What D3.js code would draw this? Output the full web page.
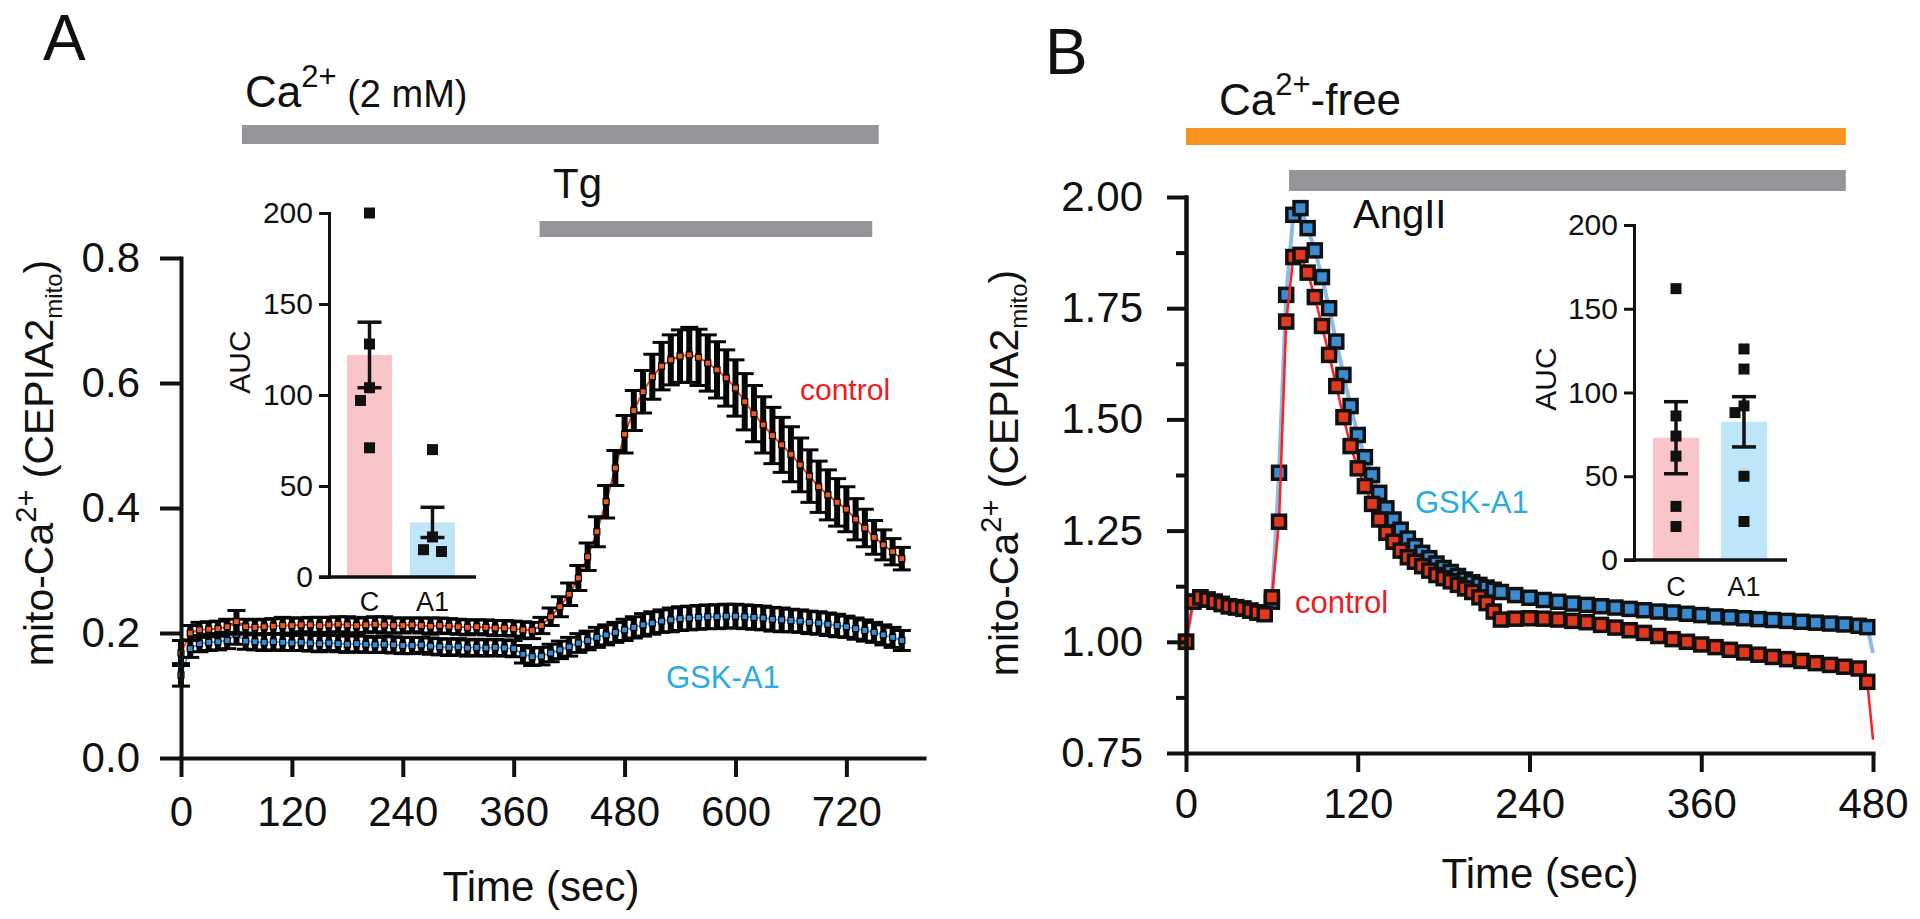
<!DOCTYPE html>
<html lang="en">
<head>
<meta charset="UTF-8">
<title>mito-Ca2+ (CEPIA2mito) traces</title>
<script src="https://d3js.org/d3.v7.min.js"></script>
<style>
  body { margin: 0; background: #fff; }
  svg { display: block; background: #fff; }
  text { font-family: 'Liberation Sans', Arial, sans-serif; fill: #111; }
</style>
</head>
<body>
<svg width="1920" height="919"></svg>
<script>
const FONT = "'Liberation Sans', Arial, sans-serif";

// ---------- panel A : Ca2+ (2 mM) + Tg, sampled every 10 s ----------
const timeA = [0,10,20,30,40,50,60,70,80,90,
  100,110,120,130,140,150,160,170,180,190,
  200,210,220,230,240,250,260,270,280,290,
  300,310,320,330,340,350,360,370,380,390,
  400,410,420,430,440,450,460,470,480,490,
  500,510,520,530,540,550,560,570,580,590,
  600,610,620,630,640,650,660,670,680,690,
  700,710,720,730,740,750,760,770,780];
const controlA = [0.168,0.200,0.205,0.206,0.207,0.210,0.218,0.210,0.209,0.210,
  0.211,0.212,0.212,0.213,0.213,0.212,0.213,0.214,0.213,0.212,
  0.213,0.214,0.213,0.212,0.212,0.213,0.212,0.211,0.212,0.211,
  0.210,0.209,0.210,0.209,0.208,0.208,0.207,0.205,0.204,0.212,
  0.226,0.242,0.262,0.288,0.322,0.362,0.410,0.464,0.518,0.556,
  0.586,0.610,0.627,0.637,0.643,0.645,0.641,0.632,0.621,0.608,
  0.592,0.570,0.551,0.533,0.516,0.501,0.486,0.469,0.451,0.434,
  0.421,0.409,0.398,0.382,0.368,0.353,0.341,0.330,0.319];
const controlSemA = [0.020,0.012,0.012,0.012,0.012,0.012,0.018,0.012,0.012,0.012,
  0.012,0.013,0.012,0.011,0.012,0.013,0.012,0.012,0.013,0.012,
  0.012,0.012,0.013,0.012,0.012,0.011,0.012,0.013,0.012,0.012,
  0.012,0.012,0.011,0.012,0.012,0.012,0.012,0.013,0.013,0.013,
  0.014,0.016,0.018,0.020,0.022,0.024,0.026,0.028,0.030,0.032,
  0.034,0.036,0.038,0.040,0.042,0.044,0.045,0.045,0.045,0.045,
  0.045,0.045,0.045,0.045,0.045,0.044,0.044,0.043,0.042,0.041,
  0.040,0.038,0.036,0.033,0.030,0.027,0.024,0.021,0.018];
const gskA = [0.133,0.175,0.183,0.185,0.186,0.188,0.198,0.187,0.186,0.185,
  0.186,0.185,0.184,0.185,0.184,0.183,0.184,0.183,0.182,0.183,
  0.182,0.181,0.182,0.181,0.180,0.180,0.181,0.179,0.178,0.177,
  0.178,0.176,0.177,0.176,0.177,0.176,0.175,0.166,0.162,0.163,
  0.168,0.173,0.178,0.184,0.188,0.193,0.197,0.201,0.205,0.209,
  0.213,0.216,0.219,0.221,0.223,0.224,0.225,0.226,0.226,0.227,
  0.227,0.226,0.225,0.224,0.222,0.221,0.220,0.219,0.217,0.216,
  0.214,0.212,0.210,0.207,0.204,0.201,0.197,0.193,0.188];
const gskSemA = [0.018,0.014,0.013,0.013,0.013,0.013,0.016,0.013,0.013,0.013,
  0.013,0.013,0.012,0.013,0.013,0.013,0.012,0.013,0.013,0.013,
  0.013,0.012,0.013,0.013,0.013,0.013,0.012,0.013,0.013,0.013,
  0.013,0.013,0.013,0.013,0.013,0.013,0.013,0.014,0.014,0.014,
  0.014,0.014,0.015,0.015,0.015,0.016,0.016,0.016,0.017,0.017,
  0.018,0.018,0.018,0.019,0.019,0.019,0.019,0.019,0.019,0.019,
  0.019,0.019,0.019,0.019,0.019,0.019,0.018,0.018,0.018,0.018,
  0.018,0.018,0.017,0.017,0.017,0.016,0.016,0.016,0.016];
const xTicksA = [0,120,240,360,480,600,720];
const yTicksA = [0,0.2,0.4,0.6,0.8];
const caBarA = [66, 755];     // Ca2+ (2 mM) application, s
const tgBarA = [388, 748];    // Tg application, s

// ---------- panel B : Ca2+-free + AngII ----------
const timeB = [0,5,10,15,20,25,30,35,40,45,50,55,60,65,70,75,80,85,90,95,
  100,105,110,115,120,125,130,135,140,145,150,155,160,165,170,175,180,185,190,195,
  200,205,210,215,220,230,240,250,260,270,280,290,300,310,320,330,340,350,360,370,
  380,390,400,410,420,430,440,450,460,470,476,480];
const controlB = [1.00,1.09,1.10,1.095,1.09,1.085,1.08,1.078,1.075,1.07,1.066,1.062,1.10,1.27,1.72,1.865,1.87,1.83,1.775,1.71,
  1.645,1.575,1.505,1.44,1.39,1.35,1.31,1.275,1.245,1.225,1.205,1.19,1.18,1.17,1.16,1.15,1.143,1.136,1.128,1.12,
  1.112,1.10,1.087,1.068,1.05,1.052,1.053,1.052,1.05,1.047,1.044,1.038,1.032,1.026,1.02,1.013,1.006,1.0,0.994,0.988,
  0.982,0.976,0.971,0.966,0.961,0.957,0.952,0.948,0.944,0.94,0.91,0.78];
const gskB = [1.00,1.09,1.10,1.095,1.09,1.085,1.08,1.077,1.074,1.07,1.066,1.063,1.09,1.38,1.78,1.96,1.975,1.93,1.88,1.82,
  1.75,1.675,1.60,1.53,1.465,1.415,1.375,1.335,1.30,1.275,1.252,1.232,1.215,1.20,1.188,1.176,1.166,1.157,1.148,1.14,
  1.134,1.128,1.122,1.117,1.112,1.105,1.099,1.094,1.09,1.086,1.083,1.08,1.077,1.074,1.071,1.068,1.066,1.063,1.06,1.057,
  1.055,1.053,1.051,1.049,1.047,1.045,1.043,1.041,1.039,1.036,1.033,0.975];
const xTicksB = [0,120,240,360,480];
const yTicksB = [0.75,1.00,1.25,1.50,1.75,2.00];
const yMinorB = [0.875,1.125,1.375,1.625,1.875];
const freeBarB = [0, 461];    // Ca2+-free
const angBarB = [72, 461];    // AngII

// ---------- insets (AUC) ----------
const groups = ["C", "A1"];
const aucMeanA = [122, 30];
const aucSemA = [18, 8.3];
const aucPointsA = [[200,128,104,97,71], [70,22,15,14]];
const aucMeanB = [73, 82.5];
const aucSemB = [21.5, 15];
const aucPointsB = [[162,86,74,62,32,20], [126,114,92,88,50,23]];
const aucTicks = [0,50,100,150,200];

// ---------- colours ----------
const RED_MK = "#ee5a24", BLUE_MK = "#3a8dd2";
const RED_TXT = "#ed1c24", BLUE_TXT = "#29abe2";
const GRAY = "#939598", ORANGE = "#f7941d";
const barFill = ["#f9c5c8", "#bfe6f8"];

const svg = d3.select("svg");

// scales
const xA = d3.scaleLinear().domain([0, 804]).range([181, 924]);
const yA = d3.scaleLinear().domain([0, 0.8]).range([758, 258]);
const xB = d3.scaleLinear().domain([0, 480]).range([1186, 1873]);
const yB = d3.scaleLinear().domain([0.75, 2.0]).range([753, 197]);

function styleAxis(sel, w, size) {
  sel.select(".domain").attr("stroke", "#111").attr("stroke-width", w).attr("stroke-linecap", "square");
  sel.selectAll(".tick line").attr("stroke", "#111").attr("stroke-width", w);
  sel.selectAll(".tick text").attr("fill", "#111").style("font-size", size + "px").style("font-family", FONT);
}

// ---------- panel A traces ----------
function traceA(means, sems, fill, lineColor) {
  const pts = timeA.map((t, i) => ({ t: t, m: means[i], s: sems[i] }));
  const g = svg.append("g");
  g.append("path").datum(pts)
    .attr("fill", "none").attr("stroke", lineColor).attr("stroke-width", 2)
    .attr("d", d3.line().x(d => xA(d.t)).y(d => yA(d.m)));
  const eb = g.selectAll("g.eb").data(pts).join("g").attr("class", "eb").attr("stroke", "#050505");
  eb.append("line").attr("stroke-width", 6)
    .attr("x1", d => xA(d.t)).attr("x2", d => xA(d.t))
    .attr("y1", d => yA(d.m - d.s)).attr("y2", d => yA(d.m + d.s));
  eb.append("line").attr("stroke-width", 3)
    .attr("x1", d => xA(d.t) - 9).attr("x2", d => xA(d.t) + 9)
    .attr("y1", d => yA(d.m + d.s)).attr("y2", d => yA(d.m + d.s));
  eb.append("line").attr("stroke-width", 3)
    .attr("x1", d => xA(d.t) - 9).attr("x2", d => xA(d.t) + 9)
    .attr("y1", d => yA(d.m - d.s)).attr("y2", d => yA(d.m - d.s));
  g.selectAll("rect").data(pts).join("rect")
    .attr("x", d => xA(d.t) - 3).attr("y", d => yA(d.m) - 3)
    .attr("width", 6).attr("height", 6)
    .attr("fill", fill).attr("stroke", "#000").attr("stroke-width", 1.2);
}
traceA(gskA, gskSemA, BLUE_MK, "#5aa0dc");
traceA(controlA, controlSemA, RED_MK, "#e8401c");

// axes A
svg.append("g").attr("transform", "translate(0,758)")
  .call(d3.axisBottom(xA).tickValues(xTicksA).tickSize(19).tickPadding(19).tickSizeOuter(0))
  .call(styleAxis, 4, 42);
svg.append("g").attr("transform", "translate(181,0)")
  .call(d3.axisLeft(yA).tickValues(yTicksA).tickFormat(d3.format(".1f")).tickSize(21).tickPadding(20).tickSizeOuter(0))
  .call(styleAxis, 4, 42);

// ---------- panel B traces ----------
function traceB(values, fill, lineColor, lineWidth) {
  const pts = timeB.map((t, i) => ({ t: t, v: values[i] }));
  const g = svg.append("g");
  g.append("path").datum(pts)
    .attr("fill", "none").attr("stroke", lineColor).attr("stroke-width", lineWidth)
    .attr("d", d3.line().x(d => xB(d.t)).y(d => yB(d.v)));
  // the last sample is only joined by the line
  g.selectAll("rect").data(pts.slice(0, -1)).join("rect")
    .attr("x", d => xB(d.t) - 6.5).attr("y", d => yB(d.v) - 6.5)
    .attr("width", 13).attr("height", 13)
    .attr("fill", fill).attr("stroke", "#111").attr("stroke-width", 3.5);
}
traceB(gskB, BLUE_MK, "#8cbbe8", 4);
traceB(controlB, "#e2391e", "#ff2020", 2.5);

// axes B
svg.append("g").attr("transform", "translate(0,753)")
  .call(d3.axisBottom(xB).tickValues(xTicksB).tickSize(19).tickPadding(16).tickSizeOuter(0))
  .call(styleAxis, 4, 42);
svg.append("g").attr("transform", "translate(1186,0)")
  .call(d3.axisLeft(yB).tickValues(yMinorB).tickFormat("").tickSize(10).tickSizeOuter(0))
  .call(styleAxis, 4, 42);
svg.append("g").attr("transform", "translate(1186,0)")
  .call(d3.axisLeft(yB).tickValues(yTicksB).tickFormat(d3.format(".2f")).tickSize(19).tickPadding(24).tickSizeOuter(0))
  .call(styleAxis, 4, 42);

// ---------- treatment bars ----------
function treatBar(x, range, y, h, color) {
  svg.append("rect").attr("x", x(range[0])).attr("y", y)
    .attr("width", x(range[1]) - x(range[0])).attr("height", h).attr("fill", color);
}
treatBar(xA, caBarA, 125, 19, GRAY);
treatBar(xA, tgBarA, 221, 16, GRAY);
treatBar(xB, freeBarB, 128, 17, ORANGE);
treatBar(xB, angBarB, 170, 21, GRAY);

// ---------- insets ----------
function inset(box, means, sems, points) {
  const y = d3.scaleLinear().domain([0, 200]).range([box.bottom, box.top]);
  const x = d3.scaleBand().domain(groups).range([box.left + box.padL, box.right - box.padR])
    .paddingInner(box.inner).paddingOuter(box.outer);
  const g = svg.append("g");
  g.selectAll("rect.bar").data(groups).join("rect").attr("class", "bar")
    .attr("x", d => x(d)).attr("width", x.bandwidth())
    .attr("y", (d, i) => y(means[i])).attr("height", (d, i) => y(0) - y(means[i]))
    .attr("fill", (d, i) => barFill[i]);

  // individual points, nudged sideways when they overlap
  const dots = [];
  groups.forEach((grp, gi) => {
    const placed = [];
    points[gi].forEach(v => {
      const close = placed.filter(p => Math.abs(p.v - v) < 9);
      const dx = close.length === 0 ? 0 : (close.length % 2 ? -9 : 9);
      placed.push({ v: v });
      dots.push({ cx: x(grp) + x.bandwidth() / 2 + dx, v: v });
    });
  });
  g.selectAll("rect.pt").data(dots).join("rect").attr("class", "pt")
    .attr("x", d => d.cx - 5.5).attr("y", d => y(d.v) - 5.5)
    .attr("width", 11).attr("height", 11).attr("fill", "#111");

  const eb = g.selectAll("g.eb").data(groups).join("g").attr("class", "eb")
    .attr("stroke", "#111").attr("stroke-width", 3.5);
  const cx = d => x(d) + x.bandwidth() / 2;
  eb.append("line").attr("x1", cx).attr("x2", cx)
    .attr("y1", (d, i) => y(means[i] - sems[i])).attr("y2", (d, i) => y(means[i] + sems[i]));
  eb.append("line").attr("x1", d => cx(d) - 12).attr("x2", d => cx(d) + 12)
    .attr("y1", (d, i) => y(means[i] + sems[i])).attr("y2", (d, i) => y(means[i] + sems[i]));
  eb.append("line").attr("x1", d => cx(d) - 12).attr("x2", d => cx(d) + 12)
    .attr("y1", (d, i) => y(means[i] - sems[i])).attr("y2", (d, i) => y(means[i] - sems[i]));

  svg.append("g").attr("transform", `translate(${box.left},0)`)
    .call(d3.axisLeft(y).tickValues(aucTicks).tickSize(10).tickPadding(6).tickSizeOuter(0))
    .call(styleAxis, 3, 30);
  svg.append("line").attr("x1", box.left - 10).attr("x2", box.right)
    .attr("y1", box.bottom).attr("y2", box.bottom).attr("stroke", "#111").attr("stroke-width", 3.5);
  const xa = svg.append("g").attr("transform", `translate(0,${box.bottom})`)
    .call(d3.axisBottom(x).tickSize(0).tickPadding(box.labelPad));
  xa.select(".domain").remove();
  xa.selectAll(".tick text").attr("fill", "#222").style("font-size", "27px").style("font-family", FONT);

  svg.append("text")
    .attr("transform", `translate(${box.aucX},${box.aucY}) rotate(-90)`)
    .attr("text-anchor", "middle").style("font-size", "30px").text("AUC");
}
inset({ left: 329, right: 476, top: 213, bottom: 577, padL: 7, padR: 10, inner: 0.286, outer: 0.175, labelPad: 15, aucX: 250, aucY: 362 },
  aucMeanA, aucSemA, aucPointsA);
inset({ left: 1634, right: 1787, top: 225, bottom: 560, padL: 8, padR: 9, inner: 0.32, outer: 0.16, labelPad: 17, aucX: 1556, aucY: 379 },
  aucMeanB, aucSemB, aucPointsB);

// ---------- text ----------
function yLabel(x, y) {
  const t = svg.append("text").attr("transform", `translate(${x},${y}) rotate(-90)`)
    .attr("text-anchor", "middle").style("font-size", "41px");
  t.append("tspan").text("mito-Ca");
  t.append("tspan").attr("dy", -17).style("font-size", "29px").text("2+");
  t.append("tspan").attr("dy", 17).text(" (CEPIA2");
  t.append("tspan").attr("dy", 9).style("font-size", "24px").text("mito");
  t.append("tspan").attr("dy", -9).text(")");
}
yLabel(53, 463);
yLabel(1018, 473);

function caLabel(x, y, rest, restSize) {
  const t = svg.append("text").attr("x", x).attr("y", y).style("font-size", "44px");
  t.append("tspan").text("Ca");
  t.append("tspan").attr("dy", -20).style("font-size", "31px").text("2+");
  t.append("tspan").attr("dy", 20).style("font-size", restSize + "px").text(rest);
}
caLabel(245, 107, " (2 mM)", 38);
caLabel(1219, 115, "-free", 44);

svg.append("text").attr("x", 553).attr("y", 198).style("font-size", "42px").text("Tg");
svg.append("text").attr("x", 1353).attr("y", 228).style("font-size", "40px").text("AngII");

svg.append("text").attr("x", 43).attr("y", 60).style("font-size", "64px").text("A");
svg.append("text").attr("x", 1045).attr("y", 74).style("font-size", "64px").text("B");

svg.append("text").attr("x", 541).attr("y", 901).attr("text-anchor", "middle").style("font-size", "42px").text("Time (sec)");
svg.append("text").attr("x", 1540).attr("y", 888).attr("text-anchor", "middle").style("font-size", "42px").text("Time (sec)");

svg.append("text").attr("x", 800).attr("y", 400).style("font-size", "30px").style("fill", RED_TXT).text("control");
svg.append("text").attr("x", 666).attr("y", 688).style("font-size", "31px").style("fill", BLUE_TXT).text("GSK-A1");
svg.append("text").attr("x", 1295).attr("y", 613).style("font-size", "31px").style("fill", RED_TXT).text("control");
svg.append("text").attr("x", 1415).attr("y", 513).style("font-size", "31px").style("fill", BLUE_TXT).text("GSK-A1");
</script>
</body>
</html>
